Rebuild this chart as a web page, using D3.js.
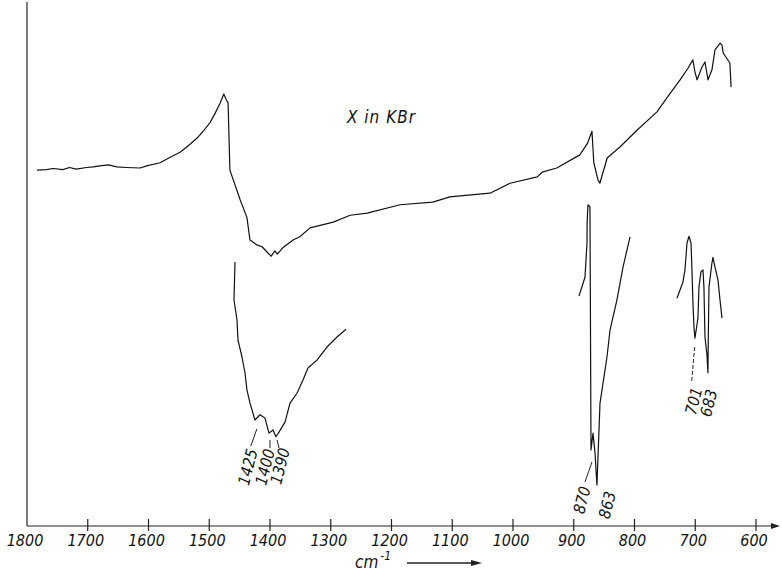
<!DOCTYPE html>
<html>
<head>
<meta charset="utf-8">
<script src="https://cdn.jsdelivr.net/npm/d3@7"></script>
<style>
  html, body { margin: 0; padding: 0; background: #fff; }
  svg { display: block; }
  text { font-family: "DejaVu Sans Condensed", "DejaVu Sans", sans-serif; font-style: italic; fill: #111; }
</style>
</head>
<body>
<svg id="chart" width="782" height="574"></svg>
<script>
// ---- data (wavenumber in cm-1, relative transmission in %) ----
const xTicks = [1800, 1700, 1600, 1500, 1400, 1300, 1200, 1100, 1000, 900, 800, 700, 600];

// survey spectrum (upper trace)
const topWn = [1783.5, 1768, 1757, 1741, 1730, 1719, 1702, 1691, 1680, 1666, 1652, 1636, 1614, 1603, 1581, 1565, 1548, 1534, 1520, 1510, 1499, 1490, 1482, 1476, 1472, 1469, 1466, 1449, 1438, 1433, 1421, 1413, 1405, 1398, 1392, 1388, 1379, 1362, 1351, 1334, 1296, 1268, 1240, 1186, 1132, 1104, 1038, 1005, 960, 952, 928, 890, 877, 870, 867, 860, 857, 845, 824, 796, 763, 747, 725, 712, 704, 700.5, 697, 689, 684, 679, 672.5, 667.5, 659, 656, 654, 643, 641];
const topT  = [67.6, 67.7, 67.9, 67.7, 68.1, 67.8, 68.1, 68.2, 68.4, 68.6, 68.2, 68.1, 68.0, 68.4, 69.0, 70.0, 71.0, 72.3, 73.7, 75.0, 76.6, 78.5, 80.4, 82.1, 81.0, 80.4, 67.6, 61.9, 58.6, 54.3, 53.3, 53.0, 52.0, 51.2, 52.2, 51.6, 52.8, 54.3, 54.9, 56.6, 57.7, 59.0, 59.4, 61.0, 61.5, 62.5, 63.2, 65.1, 66.3, 67.2, 68.0, 70.5, 72.8, 75.0, 69.0, 65.7, 65.1, 69.9, 72.0, 75.2, 78.7, 81.3, 84.8, 87.0, 88.6, 86.3, 84.8, 87.2, 88.2, 84.8, 86.7, 90.5, 91.8, 91.4, 89.9, 88.0, 83.4];

// expanded band 1425 / 1400 / 1390
const bandAWn = [1457.6, 1459.3, 1454.3, 1452.7, 1446.1, 1441.2, 1437.9, 1432.9, 1424.7, 1416.5, 1408.3, 1401.7, 1395.1, 1390.2, 1385.2, 1375.3, 1367.1, 1355.6, 1345.7, 1337.5, 1322.7, 1306.2, 1289.7, 1274.9];
const bandAT  = [50.1, 42.9, 39.0, 35.2, 32.0, 29.0, 25.7, 23.2, 20.0, 21.0, 20.4, 17.5, 18.1, 16.8, 17.7, 19.6, 23.2, 25.1, 27.6, 29.9, 31.4, 33.9, 35.8, 37.3];

// expanded band 870 / 863
const bandBWn = [891.4, 881.5, 878.2, 878.0, 876.6, 873.3, 871.6, 868.3, 865.0, 861.8, 856.8, 845.3, 840.3, 828.9, 818.9, 807.4];
const bandBT  = [43.6, 47.2, 53.7, 57.5, 61.0, 60.6, 14.3, 17.5, 13.7, 7.6, 23.2, 32.0, 37.1, 42.9, 49.1, 54.9];

// expanded band 701 / 683
const bandCWn = [730.1, 720.2, 716.9, 713.6, 710.3, 707.0, 705.4, 703.8, 702.1, 700.5, 697.2, 695.5, 693.9, 690.6, 687.3, 685.7, 684.0, 680.7, 679.1, 678.5, 677.4, 672.5, 670.8, 667.5, 662.6, 659.3, 656.0];
const bandCT  = [43.2, 46.3, 48.6, 53.7, 55.0, 53.7, 48.6, 42.3, 37.7, 35.6, 38.1, 39.6, 45.3, 48.2, 48.6, 45.3, 35.8, 32.4, 29.0, 35.8, 45.3, 49.9, 51.0, 49.1, 46.7, 42.9, 39.4];

const annTexts = ["1425", "1400", "1390", "870", "863", "701", "683"];
const annWn    = [1425, 1400, 1390, 870, 863, 701, 683];

const sampleLabel = "X in KBr";
const axisLabel = "cm";
const axisLabelSup = "-1";

// ---- drawing ----
const svg = d3.select("#chart");
const x = d3.scaleLinear().domain([1800, 600]).range([27, 756]);
const y = d3.scaleLinear().domain([0, 100]).range([525, 0]);
const axisY = 526;

const line = d3.line().x(d => x(d[0])).y(d => y(d[1]));
const zip = (a, b) => a.map((v, i) => [v, b[i]]);

// left vertical axis
svg.append("line").attr("x1", 27).attr("x2", 27).attr("y1", 2).attr("y2", axisY)
  .attr("stroke", "#222").attr("stroke-width", 1.2);

// bottom axis with arrow
svg.append("line").attr("x1", 27).attr("x2", 774).attr("y1", axisY).attr("y2", axisY)
  .attr("stroke", "#222").attr("stroke-width", 1.2);
svg.append("path").attr("d", `M780,${axisY} L771,${axisY - 3} L771,${axisY + 3} Z`).attr("fill", "#222");

const tickG = svg.append("g");
tickG.selectAll("line").data(xTicks.slice(1)).join("line")
  .attr("x1", d => x(d)).attr("x2", d => x(d))
  .attr("y1", axisY - 7).attr("y2", axisY + 5)
  .attr("stroke", "#222").attr("stroke-width", 1.2);
tickG.selectAll("text").data(xTicks).join("text")
  .attr("x", d => x(d) - 2).attr("y", 546)
  .attr("text-anchor", "middle")
  .attr("font-size", 16)
  .text(d => d);

// axis title with arrow
const at = svg.append("text").attr("x", 355).attr("y", 568).attr("font-size", 17);
at.append("tspan").text(axisLabel);
at.append("tspan").attr("dy", -8).attr("font-size", 12).attr("dx", 2).text(axisLabelSup);
svg.append("line").attr("x1", 407).attr("x2", 474).attr("y1", 563).attr("y2", 563)
  .attr("stroke", "#222").attr("stroke-width", 1.3);
svg.append("path").attr("d", "M482,563 L471,560 L471,566 Z").attr("fill", "#222");

// traces
const traceStyle = sel => sel.attr("fill", "none").attr("stroke", "#111")
  .attr("stroke-width", 1.2).attr("stroke-linejoin", "round");
svg.append("path").datum(zip(topWn, topT)).attr("d", line).call(traceStyle);
svg.append("path").datum(zip(bandAWn, bandAT)).attr("d", line).call(traceStyle);
svg.append("path").datum(zip(bandBWn, bandBT)).attr("d", line).call(traceStyle);
svg.append("path").datum(zip(bandCWn, bandCT)).attr("d", line).call(traceStyle);

// sample label
svg.append("text").attr("x", 347).attr("y", 123).attr("font-size", 17)
  .attr("letter-spacing", 1).text(sampleLabel);

// peak annotations (layout offsets in px)
const layout = {
  "1425": {dx: -7, cy: 467, leader: [[2, 429], [-4, 446]]},
  "1400": {dx: -5, cy: 467, leader: [[0, 440], [0, 448]]},
  "1390": {dx: 4,  cy: 466, leader: [[1, 440], [3, 448]]},
  "870":  {dx: -10, cy: 500, leader: [[0, 462], [-7, 482]]},
  "863":  {dx: 11, cy: 505, leader: null},
  "701":  {dx: -1, cy: 401, leader: [[0, 347], [-3, 382]], dash: "4,2"},
  "683":  {dx: 3,  cy: 403, leader: null}
};
annTexts.forEach((t, i) => {
  const L = layout[t];
  const px = x(annWn[i]);
  if (L.leader) {
    svg.append("line")
      .attr("x1", px + L.leader[0][0]).attr("y1", L.leader[0][1])
      .attr("x2", px + L.leader[1][0]).attr("y2", L.leader[1][1])
      .attr("stroke", "#222").attr("stroke-width", 1)
      .attr("stroke-dasharray", L.dash || null);
  }
  const cx = px + L.dx;
  svg.append("text")
    .attr("transform", `translate(${cx},${L.cy}) rotate(-76)`)
    .attr("text-anchor", "middle").attr("dy", "0.35em")
    .attr("font-size", 16)
    .text(t);
});
</script>
</body>
</html>
